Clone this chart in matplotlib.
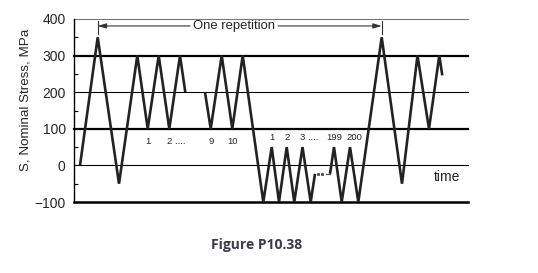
import numpy as np
import matplotlib
matplotlib.use("Agg")
import matplotlib.pyplot as plt

# load history (time in arbitrary units, stress in MPa); NaN = break in the line
time = [6, 23.7, 45, 63.3, 73.7, 84.7, 95.3, 106, 111.3, np.nan,
        131, 136.7, 147.7, 158.3, 168.7, 189.3, 197.7, 205, 212.7, 220.3,
        228.5, 236.7, 241, np.nan,
        256, 260, 267.7, 276, 284.3, 307.7, 328, 343.5, 355, 365.3, 368.3]
stress = [0, 350, -50, 300, 100, 300, 100, 300, 200, np.nan,
          200, 100, 300, 100, 300, -100, 50, -100, 50, -100,
          50, -100, -23, np.nan,
          -23, 50, -100, 50, -100, 350, -50, 300, 100, 300, 246]

gap_t = [244.3, 248.3]
gap_s = [-23, -23]

levels = [300, 200, 100, 0, -100]
level_w = [1.6, 0.8, 1.6, 0.8, 1.8]

upper_labels = ["1", "2 ....", "9", "10"]
upper_t = [73.7, 95.3, 136.7, 158.3]
lower_labels = ["1", "2", "3 ....", "199", "200"]
lower_t = [197.7, 212.7, 228.5, 260, 280]

txt = "#262626"
plt.rcParams["font.family"] = ["Liberation Sans", "DejaVu Sans"]

fig = plt.figure(figsize=(5.38, 2.73), dpi=100)
ax = fig.add_axes([74/538, 1 - 202/273, 394/538, 183/273])
ax.set_xlim(0, 394)
ax.set_ylim(-100, 400)

for lv, lw in zip(levels, level_w):
    ax.axhline(lv, color="black", lw=lw, clip_on=False, zorder=1)
ax.axhline(400, color="#777777", lw=0.8, clip_on=False, zorder=1)

ax.plot(time, stress, color="#222222", lw=1.9, solid_joinstyle="miter",
        solid_capstyle="butt", zorder=3)
ax.plot(gap_t, gap_s, ls="none", marker="s", ms=1.2, color="#555555")
ax.plot([252, 256], [-23, -23], color="#555555", lw=0.9)

for s in ["top", "right", "bottom"]:
    ax.spines[s].set_visible(False)
ax.spines["left"].set_linewidth(1.0)
ax.set_xticks([])
ax.set_yticks([-100, 0, 100, 200, 300, 400])
ax.set_yticklabels(["\u2212100", "0", "100", "200", "300", "400"])
ax.set_yticks([-50, 50, 150, 250, 350], minor=True)
ax.tick_params(axis="y", which="major", length=0, pad=6, labelsize=10, labelcolor=txt)
ax.tick_params(axis="y", which="minor", direction="in", length=3, width=0.8)

ax.set_ylabel("S, Nominal Stress, MPa", fontsize=9.6, color=txt)
ax.yaxis.set_label_coords(-0.107, 0.56)

# cycle counters
for lab, t in zip(upper_labels, upper_t):
    if "." in lab:
        ax.text(t - 2, 65, lab, fontsize=6.8, color=txt, ha="left", va="center")
    else:
        ax.text(t, 65, lab, fontsize=6.8, color=txt, ha="center", va="center")
for lab, t in zip(lower_labels, lower_t):
    if "." in lab:
        ax.text(t - 2, 77, lab, fontsize=6.8, color=txt, ha="left", va="center")
    else:
        ax.text(t, 77, lab, fontsize=6.8, color=txt, ha="center", va="center")

ax.text(373, -33, "time", fontsize=10, color=txt, ha="center", va="center")

# one repetition marker
ax.plot([23.7, 23.7], [360, 395], color="#333333", lw=0.8)
ax.plot([307.7, 307.7], [360, 395], color="#333333", lw=0.8)
ax.annotate("", xy=(23.7, 381), xytext=(116, 381),
            arrowprops=dict(arrowstyle="-|>,head_length=0.5,head_width=0.15",
                            color="#333333", lw=0.8, shrinkA=0, shrinkB=0))
ax.annotate("", xy=(307.7, 381), xytext=(204, 381),
            arrowprops=dict(arrowstyle="-|>,head_length=0.5,head_width=0.15",
                            color="#333333", lw=0.8, shrinkA=0, shrinkB=0))
ax.text(160, 381, "One repetition", fontsize=9.4, color=txt, ha="center", va="center")

fig.text(257/538, 1 - 245/273, "Figure P10.38", fontsize=10, fontweight="bold",
         color="#3a3a4a", ha="center", va="center", family="Open Sans")

fig.savefig("out.png", dpi=100)
